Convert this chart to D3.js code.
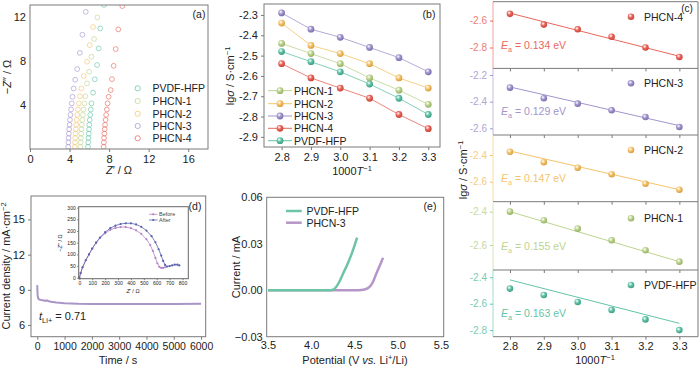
<!DOCTYPE html>
<html><head><meta charset="utf-8">
<script src="https://cdn.jsdelivr.net/npm/d3@7"></script>
<style>body{margin:0;background:#fff}svg{display:block}</style>
</head><body><script>
// ---------- DATA ----------
// (a) Nyquist plots: Z' (re) and -Z'' (im), ohm
const nyqNames = ["PVDF-HFP","PHCN-1","PHCN-2","PHCN-3","PHCN-4"];
const reHFP = [5.87,5.89,5.91,5.94,5.97,6.0,6.04,6.09,6.15,6.22,6.38,6.55,6.78,6.95,7.1,7.48];
const imHFP = [0.2,0.6,1.0,1.4,1.8,2.2,2.65,3.1,3.6,4.15,5.12,6.34,7.64,9.15,10.97,13.1];
const reP1 = [5.1,5.12,5.14,5.17,5.2,5.24,5.29,5.35,5.42,5.5,5.6,5.77,5.98,6.21,6.48,6.81];
const imP1 = [0.2,0.6,1.0,1.4,1.8,2.2,2.65,3.1,3.6,4.15,4.8,5.97,7.03,8.4,10.0,11.97];
const reP2 = [4.53,4.55,4.57,4.6,4.63,4.67,4.72,4.78,4.85,4.94,5.05,5.2,5.44,5.77,6.04,6.38];
const imP2 = [0.2,0.6,1.0,1.4,1.8,2.2,2.65,3.1,3.6,4.15,4.8,5.52,6.64,7.94,9.45,11.1];
const reP3 = [3.86,3.88,3.9,3.93,3.96,4.0,4.04,4.09,4.15,4.22,4.3,4.42,4.57,4.77,5.04,5.3,5.64];
const imP3 = [0.2,0.6,1.0,1.4,1.8,2.2,2.65,3.1,3.6,4.15,4.75,5.5,6.3,7.27,8.75,10.4,12.48];
const reP4 = [7.45,7.47,7.49,7.52,7.55,7.59,7.64,7.7,7.77,7.85,7.95,8.16,8.29,8.46,8.66,8.93,9.33];
const imP4 = [0.2,0.6,1.0,1.4,1.8,2.2,2.65,3.1,3.6,4.15,4.75,5.36,6.36,7.57,9.09,10.88,13.0];
const nyqTicksX = [0,4,8,12,16];
const nyqTicksY = [4,8,12];

// (b) Arrhenius, lg sigma vs 1000/T
const invT = [2.8,2.9,3.0,3.1,3.2,3.3];
const bNames = ["PHCN-1","PHCN-2","PHCN-3","PHCN-4","PVDF-HFP"];
const bP1 = [-2.44,-2.49,-2.54,-2.61,-2.67,-2.74];
const bP2 = [-2.34,-2.45,-2.49,-2.54,-2.61,-2.66];
const bP3 = [-2.29,-2.37,-2.41,-2.46,-2.51,-2.58];
const bP4 = [-2.54,-2.61,-2.66,-2.71,-2.79,-2.86];
const bHFP = [-2.48,-2.53,-2.58,-2.64,-2.71,-2.79];
const bTicksY = [-2.3,-2.4,-2.5,-2.6,-2.7,-2.8,-2.9];

// (c) individual fits (top to bottom)
const cNames = ["PHCN-4","PHCN-3","PHCN-2","PHCN-1","PVDF-HFP"];
const cP4 = [-2.55,-2.63,-2.665,-2.72,-2.80,-2.87];
const cP3 = [-2.295,-2.375,-2.415,-2.465,-2.515,-2.59];
const cP2 = [-2.376,-2.454,-2.495,-2.544,-2.615,-2.66];
const cP1 = [-2.40,-2.452,-2.502,-2.572,-2.632,-2.70];
const cHFP = [-2.486,-2.534,-2.587,-2.648,-2.719,-2.80];
const cFitStart = [-2.545,-2.29,-2.37,-2.40,-2.42];
const cFitEnd = [-2.865,-2.58,-2.66,-2.70,-2.749];
const cEa = ["0.134","0.129","0.147","0.155","0.163"];
const cDomLo = [-2.955,-2.65,-2.75,-2.75,-2.85];
const cDomHi = [-2.46,-2.15,-2.25,-2.35,-2.345];
const cTicks = [[-2.6,-2.8],[-2.2,-2.4,-2.6],[-2.4,-2.6],[-2.4,-2.6],[-2.4,-2.6,-2.8]];

// (d) chronoamperometry
const timeD = [0,5,15,30,60,100,150,200,250,300,350,400,500,700,1000,1500,2000,3000,4000,5000,6000];
const currD = [9.4,8.9,8.5,8.3,8.2,8.15,8.12,8.1,8.08,8.05,8.1,8.05,7.98,7.92,7.86,7.8,7.78,7.78,7.78,7.79,7.8];
const dTicksX = [0,1000,2000,3000,4000,5000,6000];
const dTicksY = [6,9,12,15];
// (d) inset EIS
const befRe = [0,10,25,50,75,100,130,160,200,240,280,320,360,400,440,480,520,550,570,590,605,620,635,650,665];
const befIm = [0,20,45,75,100,125,150,170,190,205,213,217,217,212,203,188,165,140,115,85,62,47,42,42,45];
const aftRe = [0,10,25,50,75,100,130,160,200,240,280,320,360,400,440,480,520,560,590,615,635,650,665,680,700,720,740,760,775];
const aftIm = [0,20,45,75,100,125,150,172,195,212,223,230,233,233,228,218,202,178,152,122,95,72,55,48,50,53,56,56,53];
const insTicksX = [0,100,200,300,400,500,600,700,800];
const insTicksY = [0,50,100,150,200,250,300];

// (e) LSV
const potHFP = [3.5,3.8,4.0,4.2,4.24,4.27,4.32,4.37,4.42,4.47,4.53];
const curHFP = [0,0,0,0,0.0002,0.001,0.005,0.011,0.017,0.024,0.034];
const potP3 = [3.5,3.8,4.0,4.3,4.55,4.6,4.65,4.68,4.71,4.74,4.77,4.8,4.83];
const curP3 = [0,0,0,0,0,0.0003,0.0012,0.0025,0.005,0.009,0.013,0.017,0.021];
const eTicksX = [3.5,4.0,4.5,5.0,5.5];
const eTicksY = [-0.03,0,0.03,0.06];

// ---------- STYLE ----------
const FONT = '"Liberation Sans", Arial, Helvetica, sans-serif';
const AX = "#7a7a7a";
const TXT = "#222";
const COL = {"PVDF-HFP":"#63c4a9","PHCN-1":"#bdd48e","PHCN-2":"#f4c46c","PHCN-3":"#a395cd","PHCN-4":"#e9675d"};
const DARK = {"PVDF-HFP":"#3f9e85","PHCN-1":"#98b066","PHCN-2":"#d79e3e","PHCN-3":"#7d6fae","PHCN-4":"#c8443b"};

const svg = d3.select("body").append("svg").attr("width",700).attr("height",368)
  .attr("font-family",FONT);
const defs = svg.append("defs");
Object.keys(COL).forEach((k,i)=>{
  const g = defs.append("radialGradient").attr("id","sph"+i).attr("cx","38%").attr("cy","35%").attr("r","65%");
  g.append("stop").attr("offset","0").attr("stop-color","#ffffff").attr("stop-opacity",0.85);
  g.append("stop").attr("offset","0.45").attr("stop-color",COL[k]);
  g.append("stop").attr("offset","1").attr("stop-color",DARK[k]);
});
const sphId = k => "url(#sph"+Object.keys(COL).indexOf(k)+")";
function sphere(g,x,y,r,k){ g.append("circle").attr("cx",x).attr("cy",y).attr("r",r).attr("fill",sphId(k)); }

function frame(g,x0,y0,x1,y1,col){
  g.append("rect").attr("x",x0).attr("y",y0).attr("width",x1-x0).attr("height",y1-y0)
   .attr("fill","none").attr("stroke",col||AX).attr("stroke-width",1);
}
function axis(g,gen,tx,ty,size,col,tcol){
  const s = g.append("g").attr("transform",`translate(${tx},${ty})`).call(gen);
  s.attr("font-family",FONT).attr("font-size",size);
  s.select(".domain").remove();
  s.selectAll("line").attr("stroke",col||AX);
  s.selectAll("text").attr("fill",tcol||TXT);
  return s;
}
function rich(g,x,y,parts,size,opt){
  opt = opt||{};
  const t = g.append("text").attr("x",x).attr("y",y).attr("font-size",size)
    .attr("text-anchor",opt.anchor||"middle").attr("fill",opt.fill||TXT);
  if(opt.rot) t.attr("transform",`rotate(-90,${x},${y})`);
  let shift = 0;
  parts.forEach(p=>{
    const s = t.append("tspan").text(p[0]);
    const f = p[1]||"";
    const target = f.includes("sup") ? -size*0.4 : f.includes("sub") ? size*0.28 : 0;
    if(target!==shift){ s.attr("dy",target-shift); shift = target; }
    if(target!==0) s.attr("font-size",size*0.68);
    if(f.includes("i")) s.attr("font-style","italic");
  });
  return t;
}

// ---------- PANEL (a) ----------
{
  const g = svg.append("g");
  const x = d3.scaleLinear([0,18],[30,208]);
  const y = d3.scaleLinear([0,13.1],[149,5]);
  defs.append("clipPath").attr("id","clipA").append("rect").attr("x",30).attr("y",5).attr("width",178).attr("height",144);
  const sets = [[reHFP,imHFP],[reP1,imP1],[reP2,imP2],[reP3,imP3],[reP4,imP4]];
  const pg = g.append("g").attr("clip-path","url(#clipA)");
  sets.forEach((s,i)=>{
    const k = nyqNames[i];
    pg.selectAll(null).data(d3.range(s[0].length)).join("circle")
      .attr("cx",j=>x(s[0][j])).attr("cy",j=>y(s[1][j])).attr("r",2.4)
      .attr("fill","none").attr("stroke",COL[k]).attr("stroke-opacity",0.7).attr("stroke-width",0.9);
  });
  frame(g,30,5,208,149);
  axis(g,d3.axisBottom(x).tickValues(nyqTicksX).tickSize(3).tickPadding(3),0,149,11);
  axis(g,d3.axisLeft(y).tickValues(nyqTicksY).tickSize(0).tickPadding(4),30,0,11);
  rich(g,119,174,[["Z","i"],["′ / Ω"]],11);
  rich(g,11,77,[["−"],["Z","i"],["″ / Ω"]],11,{rot:true});
  g.append("text").attr("x",199).attr("y",18).attr("font-size",10.5).attr("text-anchor","middle").attr("fill",TXT).text("(a)");
  nyqNames.forEach((k,i)=>{
    const yy = [88.3,101,113.7,126,138.3][i];
    g.append("circle").attr("cx",137.7).attr("cy",yy).attr("r",2.6).attr("fill","none").attr("stroke",COL[k]).attr("stroke-opacity",0.75);
    g.append("text").attr("x",152.5).attr("y",yy+3.8).attr("font-size",10.5).attr("fill",TXT).text(k);
  });
}

// ---------- PANEL (b) ----------
{
  const g = svg.append("g");
  const x = d3.scaleLinear([2.74,3.34],[264,440]);
  const y = d3.scaleLinear([-2.95,-2.246],[147,4]);
  const sets = {"PHCN-1":bP1,"PHCN-2":bP2,"PHCN-3":bP3,"PHCN-4":bP4,"PVDF-HFP":bHFP};
  const line = d3.line().x((d,i)=>x(invT[i])).y(d=>y(d));
  bNames.forEach(k=>{
    g.append("path").attr("d",line(sets[k])).attr("fill","none").attr("stroke",COL[k]).attr("stroke-opacity",0.8).attr("stroke-width",1);
  });
  bNames.forEach(k=>{ sets[k].forEach((v,i)=>sphere(g,x(invT[i]),y(v),3.4,k)); });
  frame(g,264,4,440,147);
  axis(g,d3.axisBottom(x).tickValues(invT).tickFormat(d3.format(".1f")).tickSize(3).tickPadding(3),0,147,11);
  axis(g,d3.axisLeft(y).tickValues(bTicksY).tickFormat(d=>d.toFixed(1)).tickSize(3).tickPadding(3),264,0,11);
  rich(g,352,175,[["1000"],["T","i"],["−1","sup"]],11);
  rich(g,234,76,[["lg"],["σ","i"],[" / S·cm"],["−1","sup"]],11,{rot:true});
  g.append("text").attr("x",429).attr("y",18).attr("font-size",10.5).attr("text-anchor","middle").attr("fill",TXT).text("(b)");
  bNames.forEach((k,i)=>{
    const yy = [90.7,103.7,116,128.3,140.7][i];
    g.append("line").attr("x1",268).attr("x2",292).attr("y1",yy).attr("y2",yy).attr("stroke",COL[k]).attr("stroke-width",1);
    sphere(g,280,yy,3.4,k);
    g.append("text").attr("x",294).attr("y",yy+3.8).attr("font-size",10.5).attr("fill",TXT).text(k);
  });
}

// ---------- PANEL (c) ----------
{
  const g = svg.append("g");
  const x = d3.scaleLinear([2.75,3.355],[493,698]);
  const tops = [1.7,68.3,135,203.3,270];
  const h = 66.7;
  const sets = [cP4,cP3,cP2,cP1,cHFP];
  cNames.forEach((k,i)=>{
    const t = tops[i], b = t+h;
    const y = d3.scaleLinear([cDomLo[i],cDomHi[i]],[b,t]);
    g.append("line").attr("x1",x(2.8)).attr("x2",x(3.3)).attr("y1",y(cFitStart[i])).attr("y2",y(cFitEnd[i]))
      .attr("stroke",COL[k]).attr("stroke-width",1);
    sets[i].forEach((v,j)=>sphere(g,x(invT[j]),y(v),3.3,k));
    g.append("line").attr("x1",493).attr("x2",493).attr("y1",t).attr("y2",b).attr("stroke",COL[k]).attr("stroke-opacity",0.6);
    const ya = axis(g,d3.axisLeft(y).tickValues(cTicks[i]).tickFormat(d=>d.toFixed(1)).tickSize(3).tickPadding(3),493,0,10,COL[k],COL[k]);
    ya.selectAll("text").attr("opacity",0.85);
    g.append("line").attr("x1",493).attr("x2",698).attr("y1",b).attr("y2",b).attr("stroke",AX);
    if(i<4){
      axis(g,d3.axisBottom(x).tickValues(invT).tickSize(3).tickFormat(""),0,b,10);
    }
    sphere(g,631,t+15,3.3,k);
    g.append("text").attr("x",644).attr("y",t+18.8).attr("font-size",10.5).attr("fill",TXT).text(k);
    rich(g,501,t+47,[["E","i"],["a","sub"],[" = "+cEa[i]+" eV"]],10.5,{anchor:"start",fill:COL[k]});
  });
  g.append("line").attr("x1",698).attr("x2",698).attr("y1",1.7).attr("y2",336.7).attr("stroke",AX);
  g.append("line").attr("x1",493).attr("x2",698).attr("y1",1.7).attr("y2",1.7).attr("stroke",AX);
  axis(g,d3.axisBottom(x).tickValues(invT).tickFormat(d3.format(".1f")).tickSize(3).tickPadding(3),0,336.7,11);
  rich(g,595,364,[["1000"],["T","i"],["−1","sup"]],11);
  rich(g,467,170,[["lg"],["σ","i"],[" / S·cm"],["−1","sup"]],11,{rot:true});
  g.append("text").attr("x",687).attr("y",12).attr("font-size",10).attr("text-anchor","middle").attr("fill",TXT).text("(c)");
}

// ---------- PANEL (d) ----------
{
  const g = svg.append("g");
  const x = d3.scaleLinear([-230,6170],[31,205.7]);
  const y = d3.scaleLinear([5,17],[336.7,196]);
  g.append("path").attr("d",d3.line().x((d,i)=>x(timeD[i])).y(d=>y(d))(currD))
    .attr("fill","none").attr("stroke","#a995c8").attr("stroke-width",2);
  frame(g,31,196,205.7,336.7);
  axis(g,d3.axisBottom(x).tickValues(dTicksX).tickFormat(d3.format("d")).tickSize(3).tickPadding(3),0,336.7,10.5);
  axis(g,d3.axisLeft(y).tickValues(dTicksY).tickSize(3).tickPadding(3),31,0,11);
  rich(g,118,364,[["Time / s"]],11);
  rich(g,10,266,[["Current density / mA·cm"],["−2","sup"]],11,{rot:true});
  rich(g,39,320,[["t","i"],["Li+","sub"],[" = 0.71"]],11,{anchor:"start"});
  g.append("text").attr("x",195).attr("y",210).attr("font-size",10.5).attr("text-anchor","middle").attr("fill",TXT).text("(d)");
  // inset
  const xi = d3.scaleLinear([-5,845],[78.7,188.3]);
  const yi = d3.scaleLinear([-4,304],[278.7,206.7]);
  g.append("rect").attr("x",78.7).attr("y",206.7).attr("width",109.6).attr("height",72).attr("fill","#fff");
  const bc = "#b483c8", ac = "#5a5fae";
  const li = d3.line();
  g.append("path").attr("d",li(befRe.map((v,i)=>[xi(v),yi(befIm[i])]))).attr("fill","none").attr("stroke",bc).attr("stroke-width",0.8);
  g.append("path").attr("d",li(aftRe.map((v,i)=>[xi(v),yi(aftIm[i])]))).attr("fill","none").attr("stroke",ac).attr("stroke-width",0.8);
  befRe.forEach((v,i)=>g.append("circle").attr("cx",xi(v)).attr("cy",yi(befIm[i])).attr("r",1.1).attr("fill",bc));
  aftRe.forEach((v,i)=>g.append("circle").attr("cx",xi(v)).attr("cy",yi(aftIm[i])).attr("r",1.1).attr("fill",ac));
  frame(g,78.7,206.7,188.3,278.7,"#666");
  axis(g,d3.axisBottom(xi).tickValues(insTicksX).tickSize(1.5).tickPadding(1),0,278.7,5);
  axis(g,d3.axisLeft(yi).tickValues(insTicksY).tickSize(1.5).tickPadding(1.5),78.7,0,5);
  rich(g,133,293,[["Z","i"],["′ / Ω"]],5.5);
  rich(g,62,243,[["−"],["Z","i"],["″ / Ω"]],5.5,{rot:true});
  [["Before",bc,214.3],["After",ac,220]].forEach(d=>{
    g.append("line").attr("x1",149).attr("x2",157.5).attr("y1",d[2]).attr("y2",d[2]).attr("stroke",d[1]).attr("stroke-width",0.8);
    g.append("circle").attr("cx",153.2).attr("cy",d[2]).attr("r",1.1).attr("fill",d[1]);
    g.append("text").attr("x",159).attr("y",d[2]+2).attr("font-size",5.5).attr("fill","#444").text(d[0]);
  });
}

// ---------- PANEL (e) ----------
{
  const g = svg.append("g");
  const x = d3.scaleLinear([3.5,5.5],[268,441]);
  const y = d3.scaleLinear([-0.03,0.06],[336.7,197.3]);
  const cH = "#6ec5a6", cP = "#b696c8";
  g.append("path").attr("d",d3.line().x((d,i)=>x(potP3[i])).y(d=>y(d)).curve(d3.curveMonotoneX)(curP3))
    .attr("fill","none").attr("stroke",cP).attr("stroke-width",2.5);
  g.append("path").attr("d",d3.line().x((d,i)=>x(potHFP[i])).y(d=>y(d)).curve(d3.curveMonotoneX)(curHFP))
    .attr("fill","none").attr("stroke",cH).attr("stroke-width",2.5);
  frame(g,266.7,197.3,443.7,336.7);
  axis(g,d3.axisBottom(x).tickValues(eTicksX).tickFormat(d3.format(".1f")).tickSize(0).tickPadding(5),0,336.7,11);
  axis(g,d3.axisLeft(y).tickValues(eTicksY).tickFormat(d=>d===0?"0.00":d3.format(".2f")(d)).tickSize(0).tickPadding(4),266.7,0,11);
  rich(g,355,364,[["Potential (V "],["vs.","i"],[" Li"],["+","sup"],["/Li)"]],11);
  rich(g,240,267,[["Current / mA"]],11,{rot:true});
  g.append("text").attr("x",430).attr("y",210).attr("font-size",10.5).attr("text-anchor","middle").attr("fill",TXT).text("(e)");
  [["PVDF-HFP",cH,211],["PHCN-3",cP,222.7]].forEach(d=>{
    g.append("line").attr("x1",286).attr("x2",301.7).attr("y1",d[2]).attr("y2",d[2]).attr("stroke",d[1]).attr("stroke-width",2.5);
    g.append("text").attr("x",306.5).attr("y",d[2]+3.8).attr("font-size",10.5).attr("fill",TXT).text(d[0]);
  });
}
</script></body></html>
